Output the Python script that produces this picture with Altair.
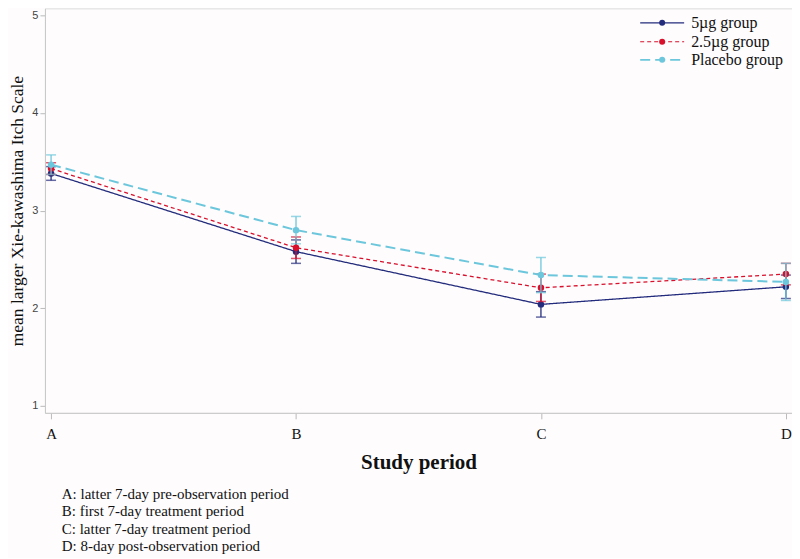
import pandas as pd
import altair as alt

periods = ["A", "B", "C", "D"]
groups = ["5µg group", "2.5µg group", "Placebo group"]
mean_5ug = [3.38, 2.58, 2.04, 2.22]
err_5ug = [0.07, 0.12, 0.13, 0.12]
mean_25ug = [3.43, 2.62, 2.21, 2.35]
err_25ug = [0.06, 0.11, 0.14, 0.11]
mean_placebo = [3.47, 2.80, 2.34, 2.27]
err_placebo = [0.10, 0.14, 0.18, 0.19]
notes = [
    "A: latter 7-day pre-observation period",
    "B: first 7-day treatment period",
    "C: latter 7-day treatment period",
    "D: 8-day post-observation period",
]

colors = ["#232c7c", "#d8102c", "#6cc7dc"]
dashes = [[1, 0], [4, 3], [10, 5]]
widths = [1.3, 1.3, 2.0]
serif = "Liberation Serif"
y_title = "mean larger Xie-kawashima Itch Scale"

means = [mean_5ug, mean_25ug, mean_placebo]
errs = [err_5ug, err_25ug, err_placebo]

x_enc = alt.X(
    "period:O",
    title="Study period",
    sort=periods,
    scale=alt.Scale(type="point", padding=0.025),
    axis=alt.Axis(
        labelAngle=0, labelFont=serif, labelFontSize=15, labelColor="#111",
        labelPadding=8, tickSize=6, tickColor="#bbb", domainColor="#c8c8c8",
        titleFont=serif, titleFontSize=21, titleFontWeight="bold",
        titleColor="#111", titlePadding=10,
    ),
)
y_scale = alt.Scale(domain=[0.93, 5.07], nice=False, zero=False)
y_axis = alt.Axis(
    values=[1, 2, 3, 4, 5], labelFont="Liberation Sans", labelFontSize=11,
    labelColor="#444", tickSize=5, tickColor="#bbb", domainColor="#c8c8c8",
    grid=False, titleFont=serif, titleFontSize=17.5, titleFontWeight="normal",
    titleColor="#111", titlePadding=5,
)

layers = []
legend_y = [14.5, 33.5, 51.5]
for i, g in enumerate(groups):
    df = pd.DataFrame({
        "period": periods,
        "mean": means[i],
        "lo": [m - e for m, e in zip(means[i], errs[i])],
        "hi": [m + e for m, e in zip(means[i], errs[i])],
    })
    base = alt.Chart(df).encode(x=x_enc)
    y_main = alt.Y("mean:Q", title=y_title, scale=y_scale, axis=y_axis)
    y_lo = alt.Y("lo:Q", title=y_title, scale=y_scale, axis=y_axis)
    y_hi = alt.Y("hi:Q", title=y_title, scale=y_scale, axis=y_axis)
    layers.append(base.mark_rule(color=colors[i], strokeWidth=1.3).encode(
        y=y_lo, y2="hi:Q"))
    layers.append(base.mark_tick(color=colors[i], size=10, thickness=1.5).encode(y=y_lo))
    layers.append(base.mark_tick(color=colors[i], size=10, thickness=1.5).encode(y=y_hi))
    layers.append(base.mark_line(color=colors[i], strokeWidth=widths[i],
                                 strokeDash=dashes[i]).encode(y=y_main))
    layers.append(base.mark_point(color=colors[i], filled=True, size=42,
                                  opacity=1).encode(y=y_main))

    # legend entry
    leg = alt.Chart(pd.DataFrame({"label": [g]}))
    layers.append(leg.mark_rule(color=colors[i], strokeWidth=widths[i] - 0.2,
                                strokeDash=dashes[i]).encode(
        x=alt.value(596), x2=alt.value(640), y=alt.value(legend_y[i])))
    layers.append(leg.mark_point(color=colors[i], filled=True, size=36,
                                 opacity=1).encode(
        x=alt.value(618), y=alt.value(legend_y[i])))
    layers.append(leg.mark_text(align="left", baseline="middle", font=serif,
                                fontSize=16, color="#111").encode(
        text="label:N", x=alt.value(647), y=alt.value(legend_y[i])))

chart = alt.layer(*layers).properties(
    width=748,
    height=405,
    autosize=alt.AutoSizeParams(type="none"),
    padding={"left": 37, "top": 0, "right": 0, "bottom": 145},
    title=alt.TitleParams(
        text=notes, orient="bottom", anchor="start", dx=53, offset=14,
        font=serif, fontSize=15, fontWeight="normal", color="#111",
        lineHeight=17.6, baseline="top",
    ),
).configure_view(stroke="#c8c8c8", strokeWidth=1.2).configure(background="#fefcfd")

chart.save("out.html", embed_options={"renderer": "svg", "actions": False})
